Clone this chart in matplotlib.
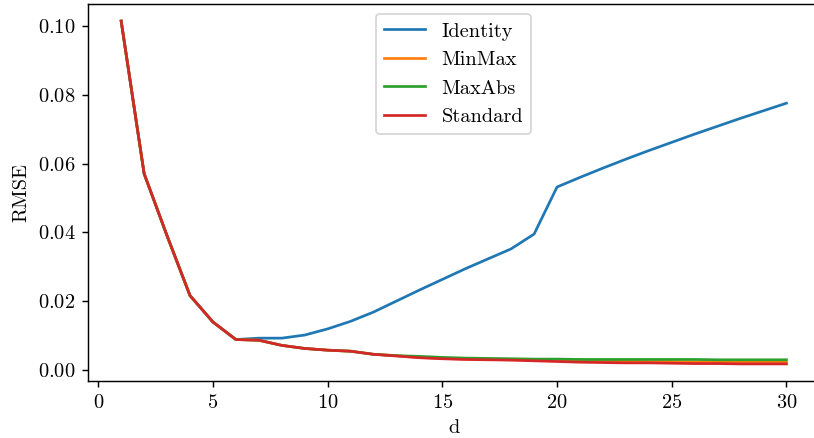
# ==========================================================
# RMSE VS d FOR DIFFERENT SCALERS
# ==========================================================

import matplotlib
matplotlib.use("Agg")
import matplotlib.pyplot as plt


# ==========================================================
# 1. DATA
# ==========================================================

d_values = list(range(1, 31))

rmse_identity = [
    0.1015, 0.0571, 0.0390, 0.0216, 0.0139, 0.0088, 0.0092, 0.0092,
    0.0101, 0.0119, 0.0141, 0.0168, 0.0200, 0.0232, 0.0263, 0.0294,
    0.0323, 0.0352, 0.0395, 0.0532, 0.0560, 0.0587, 0.0613, 0.0638,
    0.0662, 0.0686, 0.0709, 0.0732, 0.0754, 0.0776
]

rmse_minmax = [
    0.1015, 0.0571, 0.0390, 0.0216, 0.0139, 0.0088, 0.0086, 0.0071,
    0.0062, 0.0057, 0.0054, 0.0045, 0.0041, 0.0036, 0.0033, 0.0031,
    0.0030, 0.0029, 0.0028, 0.0027, 0.0026, 0.0025, 0.0025, 0.0024,
    0.0024, 0.0023, 0.0023, 0.0023, 0.0022, 0.0022
]

rmse_maxabs = [
    0.1015, 0.0571, 0.0390, 0.0216, 0.0139, 0.0088, 0.0086, 0.0071,
    0.0062, 0.0057, 0.0054, 0.0045, 0.0041, 0.0039, 0.0036, 0.0034,
    0.0033, 0.0032, 0.0031, 0.0031, 0.0030, 0.0030, 0.0030, 0.0030,
    0.0030, 0.0030, 0.0029, 0.0029, 0.0029, 0.0029
]

rmse_standard = [
    0.1015, 0.0571, 0.0390, 0.0216, 0.0139, 0.0088, 0.0086, 0.0071,
    0.0062, 0.0057, 0.0054, 0.0045, 0.0040, 0.0035, 0.0032, 0.0030,
    0.0029, 0.0028, 0.0026, 0.0024, 0.0022, 0.0021, 0.0020, 0.0020,
    0.0019, 0.0018, 0.0018, 0.0017, 0.0017, 0.0017
]


# ==========================================================
# 2. STYLE
# ==========================================================

plt.rcParams["font.family"] = "cmr10"
plt.rcParams["mathtext.fontset"] = "cm"
plt.rcParams["axes.formatter.use_mathtext"] = True
plt.rcParams["font.size"] = 11.3


# ==========================================================
# 3. PLOT
# ==========================================================

fig = plt.figure(figsize=(814 / 130, 438 / 130), dpi=130)

# axes runs a little past the right edge of the figure
ax = fig.add_axes([0.108, 0.130, 0.899, 0.861])

ax.plot(d_values, rmse_identity, label="Identity")
ax.plot(d_values, rmse_minmax, label="MinMax")
ax.plot(d_values, rmse_maxabs, label="MaxAbs")
ax.plot(d_values, rmse_standard, label="Standard")

ax.set_xlabel("d")
ax.set_ylabel("RMSE")

ax.legend(loc="upper center")

plt.savefig("out.png", dpi=130)
